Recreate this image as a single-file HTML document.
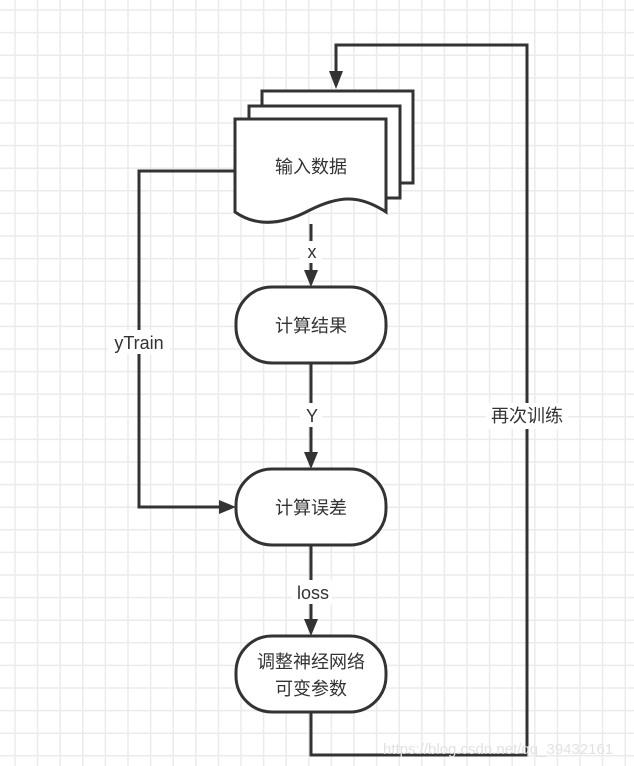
<!DOCTYPE html>
<html><head><meta charset="utf-8"><style>
html,body{margin:0;padding:0;background:#fff;}
svg{display:block;}
text{font-family:"Liberation Sans","Noto Sans CJK SC",sans-serif;font-size:18px;fill:#333;}
</style></head><body>
<svg width="634" height="766" viewBox="0 0 634 766" xmlns="http://www.w3.org/2000/svg">
<g stroke="#ebebeb" stroke-width="1.5">
<path d="M15 0V766M37.6 0V766M60.2 0V766M82.8 0V766M105.4 0V766M128 0V766M150.6 0V766M173.2 0V766M195.8 0V766M218.4 0V766M241 0V766M263.6 0V766M286.2 0V766M308.8 0V766M331.4 0V766M354 0V766M376.6 0V766M399.2 0V766M421.8 0V766M444.4 0V766M467 0V766M489.6 0V766M512.2 0V766M534.8 0V766M557.4 0V766M580 0V766M602.6 0V766M625.2 0V766"/>
<path d="M0 10H634M0 32.6H634M0 55.2H634M0 77.8H634M0 100.4H634M0 123H634M0 145.6H634M0 168.2H634M0 190.8H634M0 213.4H634M0 236H634M0 258.6H634M0 281.2H634M0 303.8H634M0 326.4H634M0 349H634M0 371.6H634M0 394.2H634M0 416.8H634M0 439.4H634M0 462H634M0 484.6H634M0 507.2H634M0 529.8H634M0 552.4H634M0 575H634M0 597.6H634M0 620.2H634M0 642.8H634M0 665.4H634M0 688H634M0 710.6H634M0 733.2H634M0 755.8H634"/>
</g>
<g stroke="#333" stroke-width="3" fill="#fff">
<path d="M262 183V91H413V183Z"/>
<path d="M249 198V106H400V198Z"/>
<path d="M235 212V119H386V212C360 195 340 195 310 210C280 226 255 226 235 212Z"/>
<rect x="236" y="287" width="150" height="76" rx="36"/>
<rect x="236" y="469" width="150" height="76" rx="36"/>
<rect x="236" y="636" width="150" height="76" rx="36"/>
</g>
<g stroke="#333" stroke-width="3" fill="none">
<path d="M311 224V272"/>
<path d="M311 363V454"/>
<path d="M311 545V621"/>
<path d="M236 171H139V507H222"/>
<path d="M311 712V755H527V45H336V74"/>
</g>
<g fill="#333">
<path d="M304 270H318L311 287Z"/>
<path d="M304 452H318L311 469Z"/>
<path d="M304 619H318L311 636Z"/>
<path d="M219 500V514L236 507Z"/>
<path d="M329 71H343L336 89Z"/>
</g>
<g fill="#fff">
<rect x="300" y="241" width="22" height="22"/>
<rect x="300" y="403" width="22" height="24"/>
<rect x="292" y="580" width="40" height="24"/>
<rect x="108" y="330" width="62" height="24"/>
<rect x="486" y="403" width="82" height="26"/>
</g>
<g text-anchor="middle">
<text x="311" y="173">输入数据</text>
<text x="311" y="332">计算结果</text>
<text x="311" y="514">计算误差</text>
<text x="311" y="668">调整神经网络</text>
<text x="311" y="695">可变参数</text>
<text x="312" y="258">x</text>
<text x="312" y="422">Y</text>
<text x="313" y="599">loss</text>
<text x="139" y="349">yTrain</text>
<text x="527" y="422">再次训练</text>
</g>
<text x="383" y="754" style="font-size:15px;fill:#e2e2e2">https://blog.csdn.net/qq_39432161</text>
</svg>
</body></html>
